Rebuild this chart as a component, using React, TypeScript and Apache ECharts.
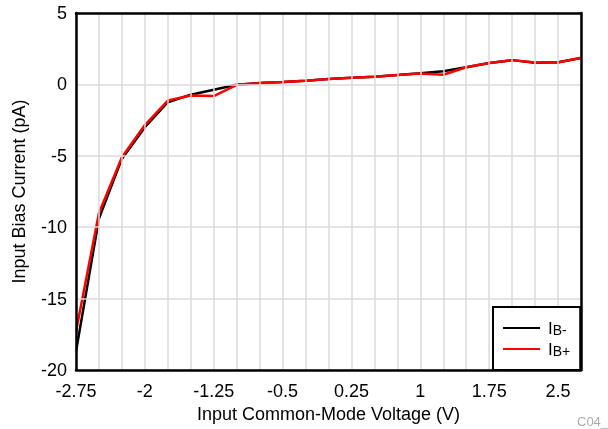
import React, { useEffect, useRef } from "react";
import * as echarts from "echarts";

// Common-mode sweep (V)
const voltage = [
  -2.75, -2.5, -2.25, -2.0, -1.75, -1.5, -1.25, -1.0, -0.75, -0.5, -0.25, 0,
  0.25, 0.5, 0.75, 1.0, 1.25, 1.5, 1.75, 2.0, 2.25, 2.5, 2.75,
];

// Inverting-input bias current (pA)
const ibMinus = [
  -18.7, -9.4, -5.2, -3.0, -1.25, -0.72, -0.37, -0.02, 0.09, 0.16, 0.26, 0.37,
  0.47, 0.54, 0.65, 0.78, 0.92, 1.2, 1.5, 1.7, 1.52, 1.55, 1.85,
];

// Non-inverting-input bias current (pA)
const ibPlus = [
  -17.3, -9.0, -5.1, -2.85, -1.13, -0.78, -0.82, -0.03, 0.09, 0.16, 0.26, 0.37,
  0.47, 0.54, 0.65, 0.76, 0.68, 1.2, 1.5, 1.7, 1.54, 1.54, 1.86,
];

const xTickLabels = ["-2.75", "-2", "-1.25", "-0.5", "0.25", "1", "1.75", "2.5"];
const seriesNames = ["IB-", "IB+"];
const figureTag = "C04_";

const FONT = "'Liberation Sans', Arial, Helvetica, sans-serif";
const X_MIN = -2.75;
const X_MAX = 2.75;
const Y_MIN = -20;
const Y_MAX = 5;

const frameLine = {
  show: true,
  onZero: false,
  lineStyle: { color: "#000", width: 2.5 },
};

export default function App() {
  const ref = useRef<HTMLDivElement>(null);

  useEffect(() => {
    if (!ref.current) return;
    const chart = echarts.init(ref.current, undefined, { renderer: "svg" });

    const toPairs = (ys: number[]) => voltage.map((v, i) => [v, ys[i]]);

    // plain axes on the top and right close the plot frame
    const frameX = {
      type: "value",
      position: "top",
      min: X_MIN,
      max: X_MAX,
      interval: 0.25,
      axisLine: frameLine,
      axisTick: { show: false },
      axisLabel: { show: false },
      splitLine: { show: false },
      z: 5,
    };
    const frameY = {
      type: "value",
      position: "right",
      min: Y_MIN,
      max: Y_MAX,
      interval: 5,
      axisLine: frameLine,
      axisTick: { show: false },
      axisLabel: { show: false },
      splitLine: { show: false },
      z: 5,
    };

    chart.setOption({
      animation: false,
      textStyle: { fontFamily: FONT },
      grid: {
        left: 76,
        right: 27,
        top: 13,
        bottom: 59,
        containLabel: false,
        outerBoundsMode: "none",
      },
      xAxis: [
        {
          type: "value",
          position: "bottom",
          min: X_MIN,
          max: X_MAX,
          interval: 0.25,
          name: "Input Common-Mode Voltage (V)",
          nameLocation: "middle",
          nameGap: 31,
          nameTextStyle: { color: "#000", fontSize: 18, fontFamily: FONT },
          axisLine: frameLine,
          axisTick: { show: false },
          axisLabel: {
            color: "#000",
            fontSize: 18,
            fontFamily: FONT,
            margin: 12,
            showMaxLabel: true,
            showMinLabel: true,
            formatter: (v: number) => {
              const s = String(+v.toFixed(2));
              return xTickLabels.includes(s) ? s : "";
            },
          },
          splitLine: { show: true, lineStyle: { color: "#dadada", width: 1.5 } },
          z: 5,
        },
        frameX,
      ],
      yAxis: [
        {
          type: "value",
          position: "left",
          min: Y_MIN,
          max: Y_MAX,
          interval: 5,
          name: "Input Bias Current (pA)",
          nameLocation: "middle",
          nameGap: 48,
          nameTextStyle: { color: "#000", fontSize: 18, fontFamily: FONT },
          axisLine: frameLine,
          axisTick: { show: false },
          axisLabel: { color: "#000", fontSize: 18, fontFamily: FONT, margin: 9 },
          splitLine: { show: true, lineStyle: { color: "#dadada", width: 1.5 } },
          z: 5,
        },
        frameY,
      ],
      legend: {
        left: 493,
        top: 307,
        orient: "vertical",
        backgroundColor: "#fff",
        borderColor: "#000",
        borderWidth: 2,
        borderRadius: 0,
        padding: [12, 10, 12, 10],
        itemWidth: 37,
        itemHeight: 2,
        itemGap: 3,
        icon: "rect",
        data: seriesNames,
        z: 10,
        formatter: (name: string) =>
          `{i|${name.slice(0, 1)}}{sub|${name.slice(1)}}`,
        textStyle: {
          color: "#000",
          fontFamily: FONT,
          padding: [0, 0, 0, 3],
          rich: {
            i: { fontSize: 17, lineHeight: 14, fontFamily: FONT, color: "#000" },
            sub: {
              fontSize: 14,
              lineHeight: 14,
              fontFamily: FONT,
              color: "#000",
              padding: [4, 0, 0, 0],
            },
          },
        },
      },
      graphic: [
        {
          type: "text",
          left: 577,
          top: 415,
          style: {
            text: figureTag,
            fill: "#aaaaaa",
            fontSize: 13,
            fontFamily: FONT,
          },
        },
      ],
      series: [
        {
          name: seriesNames[0],
          type: "line",
          data: toPairs(ibMinus),
          symbol: "none",
          lineStyle: { color: "#000", width: 2.5 },
          itemStyle: { color: "#000" },
          z: 2,
        },
        {
          name: seriesNames[1],
          type: "line",
          data: toPairs(ibPlus),
          symbol: "none",
          lineStyle: { color: "#ff0000", width: 2.5 },
          itemStyle: { color: "#ff0000" },
          z: 3,
        },
      ],
    });

    return () => chart.dispose();
  }, []);

  return (
    <div
      ref={ref}
      style={{ position: "fixed", left: 0, top: 0, width: 608, height: 429 }}
    />
  );
}
